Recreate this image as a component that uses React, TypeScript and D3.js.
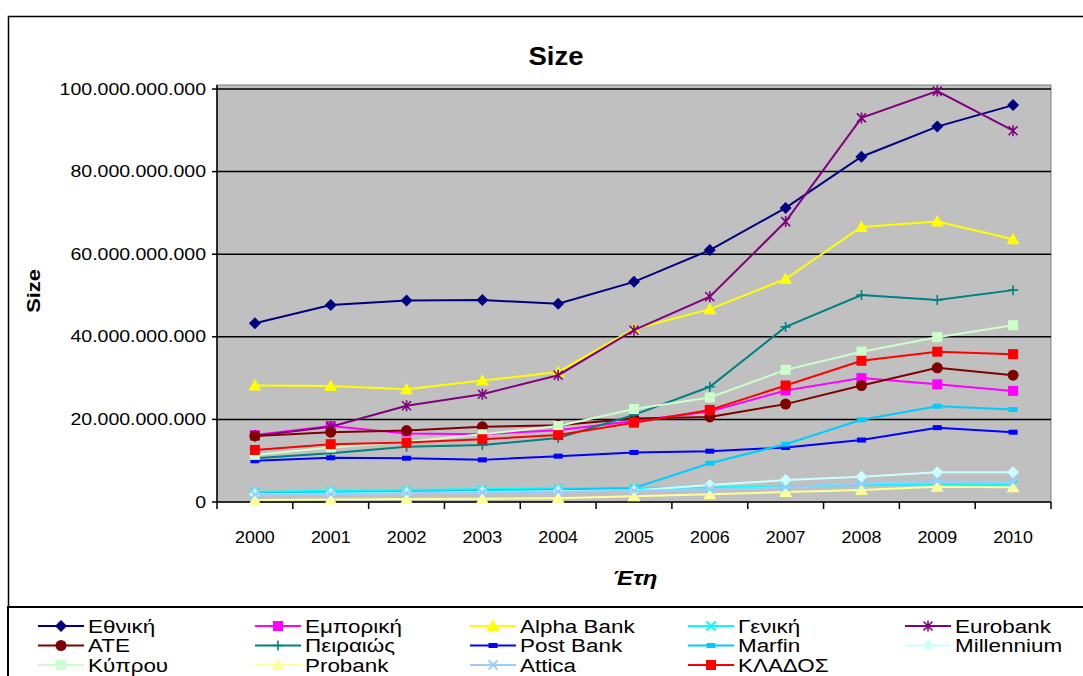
import React from "react";
import * as d3 from "d3";

const years = ["2000","2001","2002","2003","2004","2005","2006","2007","2008","2009","2010"];
const yTicks = [0, 20e9, 40e9, 60e9, 80e9, 100e9];

const ethniki = [43.3, 47.7, 48.8, 48.9, 48.0, 53.3, 61.0, 71.2, 83.6, 90.9, 96.1];
const emporiki = [16.2, 18.4, 16.6, 16.4, 17.4, 19.6, 21.9, 27.0, 30.0, 28.5, 26.9];
const alpha = [28.2, 28.1, 27.3, 29.4, 31.5, 41.9, 46.7, 54.0, 66.6, 67.9, 63.6];
const geniki = [2.4, 2.7, 2.9, 3.1, 3.3, 3.4, 3.5, 3.8, 4.1, 4.2, 4.1];
const eurobank = [16.0, 18.2, 23.3, 26.1, 30.7, 41.6, 49.7, 67.9, 93.0, 99.5, 89.9];
const ate = [16.0, 16.9, 17.3, 18.2, 18.6, 20.2, 20.6, 23.7, 28.2, 32.5, 30.7];
const peiraios = [10.6, 11.8, 13.4, 13.8, 15.5, 21.1, 27.9, 42.4, 50.1, 48.9, 51.3];
const postbank = [10.0, 10.7, 10.6, 10.2, 11.1, 12.0, 12.3, 13.2, 15.0, 18.0, 16.9];
const marfin = [2.1, 2.3, 2.5, 2.8, 3.0, 3.4, 9.4, 14.0, 19.9, 23.2, 22.4];
const millennium = [1.9, 2.0, 2.2, 2.4, 2.6, 2.8, 4.1, 5.3, 6.1, 7.2, 7.2];
const kyprou = [11.4, 13.2, 14.6, 16.4, 18.4, 22.5, 25.3, 32.0, 36.4, 39.9, 42.8];
const probank = [0.5, 0.6, 0.7, 0.8, 0.9, 1.4, 1.9, 2.4, 2.9, 3.7, 3.6];
const attica = [1.8, 1.9, 2.1, 2.3, 2.5, 2.7, 3.1, 3.6, 4.4, 5.1, 4.8];
const kladosValues = [12.6, 14.0, 14.4, 15.2, 16.2, 19.2, 22.3, 28.2, 34.2, 36.4, 35.8];

const seriesNames = ["Εθνική","Εμπορική","Alpha Bank","Γενική","Eurobank","ATE","Πειραιώς","Post Bank","Marfin","Millennium","Κύπρου","Probank","Attica","ΚΛΑΔΟΣ"];
const seriesValues = [ethniki, emporiki, alpha, geniki, eurobank, ate, peiraios, postbank, marfin, millennium, kyprou, probank, attica, kladosValues];
const seriesColors = ["#000080","#FF00FF","#FFFF00","#00FFFF","#800080","#800000","#008080","#0000FF","#00CCFF","#CCFFFF","#CCFFCC","#FFFF99","#99CCFF","#FF0000"];
const seriesMarkers = ["diamond","square","triangle","x","asterisk","circle","plus","dash","dash","diamond","square","triangle","x","square"];

const W = 1083, H = 676;
const plotLeft = 217, plotRight = 1051, plotTop = 85, plotBottom = 502;
const FONT = "'Liberation Sans', Arial, sans-serif";

const locale = d3.formatLocale({ decimal: ",", thousands: ".", grouping: [3], currency: ["", ""] });
const fmt = locale.format(",");

function SText({ x, y, sx = 1, rotate = 0, children, ...rest }: any) {
  return (
    <text transform={`translate(${x},${y}) rotate(${rotate}) scale(${sx},1)`} dy="0.35em" {...rest}>
      {children}
    </text>
  );
}

function Marker({ type, x, y, color }: { type: string; x: number; y: number; color: string }) {
  const t = `translate(${x},${y})`;
  switch (type) {
    case "diamond":
      return <path transform={t} d="M0,-6L6,0L0,6L-6,0Z" fill={color} />;
    case "square":
      return <rect x={x - 5} y={y - 5} width={10} height={10} fill={color} />;
    case "triangle":
      return <path transform={t} d="M0,-6.5L6.5,5L-6.5,5Z" fill={color} />;
    case "circle":
      return <circle cx={x} cy={y} r={5.5} fill={color} />;
    case "dash":
      return <rect x={x - 4.5} y={y - 2.5} width={9} height={5} fill={color} />;
    case "plus":
      return <path transform={t} d="M-5,0H5M0,-5V5" stroke={color} strokeWidth={1.6} fill="none" />;
    case "x":
      return <path transform={t} d="M-4.5,-4.5L4.5,4.5M-4.5,4.5L4.5,-4.5" stroke={color} strokeWidth={1.8} fill="none" />;
    case "asterisk":
      return <path transform={t} d="M-4.5,-4.5L4.5,4.5M-4.5,4.5L4.5,-4.5M0,-5.5V5.5" stroke={color} strokeWidth={1.6} fill="none" />;
  }
  return null;
}

export default function App() {
  const x = d3.scaleBand<string>().domain(years).range([plotLeft, plotRight]).padding(0);
  const y = d3.scaleLinear().domain([0, 100e9]).range([plotBottom, 89]);
  const cx = (yr: string) => (x(yr) as number) + x.bandwidth() / 2;
  const line = d3.line<number>().x((_, i) => cx(years[i])).y((v) => y(v * 1e9));

  const legendCols = [38, 255, 470, 688, 905];
  const legendRows = [626, 645.5, 665];

  return (
    <svg width={W} height={H} style={{ position: "fixed", left: 0, top: 0, background: "#fff" }} fontFamily={FONT}>
      <rect x={0} y={0} width={W} height={H} fill="#fff" />
      <rect x={8.5} y={16.5} width={1200} height={800} fill="none" stroke="#000" strokeWidth={1.5} />
      <rect x={plotLeft} y={plotTop} width={plotRight - plotLeft} height={plotBottom - plotTop} fill="#C0C0C0" stroke="#808080" strokeWidth={1} />
      {yTicks.filter((t) => t > 0).map((t) => (
        <line key={t} x1={plotLeft} x2={plotRight} y1={y(t)} y2={y(t)} stroke="#000" strokeWidth={1.5} />
      ))}
      <line x1={plotLeft} x2={plotLeft} y1={plotTop} y2={plotBottom} stroke="#000" strokeWidth={1.5} />
      <line x1={plotLeft} x2={plotRight} y1={plotBottom} y2={plotBottom} stroke="#000" strokeWidth={1.5} />
      {yTicks.map((t) => (
        <g key={t}>
          <line x1={plotLeft - 5} x2={plotLeft} y1={y(t)} y2={y(t)} stroke="#000" strokeWidth={1.5} />
          <SText x={plotLeft - 11} y={y(t)} sx={1.22} textAnchor="end" fontSize={16}>{fmt(t)}</SText>
        </g>
      ))}
      {years.map((yr, i) => (
        <g key={yr}>
          <line x1={x(yr) as number} x2={x(yr) as number} y1={plotBottom} y2={plotBottom + 7} stroke="#000" strokeWidth={1.5} />
          {i === years.length - 1 && (
            <line x1={plotRight} x2={plotRight} y1={plotBottom} y2={plotBottom + 7} stroke="#000" strokeWidth={1.5} />
          )}
          <SText x={cx(yr)} y={537} sx={1.05} textAnchor="middle" fontSize={17}>{yr}</SText>
        </g>
      ))}
      {seriesValues.map((vals, si) => (
        <g key={seriesNames[si]}>
          <path d={line(vals) as string} fill="none" stroke={seriesColors[si]} strokeWidth={2} />
          {vals.map((v, i) => (
            <Marker key={i} type={seriesMarkers[si]} x={cx(years[i])} y={y(v * 1e9)} color={seriesColors[si]} />
          ))}
        </g>
      ))}
      <SText x={556} y={56} sx={1.1} textAnchor="middle" fontSize={25} fontWeight="bold">Size</SText>
      <SText x={33} y={291} rotate={-90} sx={1.15} textAnchor="middle" fontSize={19} fontWeight="bold">Size</SText>
      <SText x={635} y={578} sx={1.2} textAnchor="middle" fontSize={20} fontWeight="bold" fontStyle="italic">Έτη</SText>
      <rect x={8} y={607} width={1200} height={200} fill="#fff" stroke="#000" strokeWidth={2} />
      {seriesNames.map((name, si) => {
        const col = si % 5;
        const row = Math.floor(si / 5);
        const lx = legendCols[col];
        const ly = legendRows[row];
        return (
          <g key={name}>
            <line x1={lx} x2={lx + 46} y1={ly} y2={ly} stroke={seriesColors[si]} strokeWidth={2} />
            <Marker type={seriesMarkers[si]} x={lx + 23} y={ly} color={seriesColors[si]} />
            <SText x={lx + 50} y={ly} sx={1.18} fontSize={19}>{name}</SText>
          </g>
        );
      })}
    </svg>
  );
}
